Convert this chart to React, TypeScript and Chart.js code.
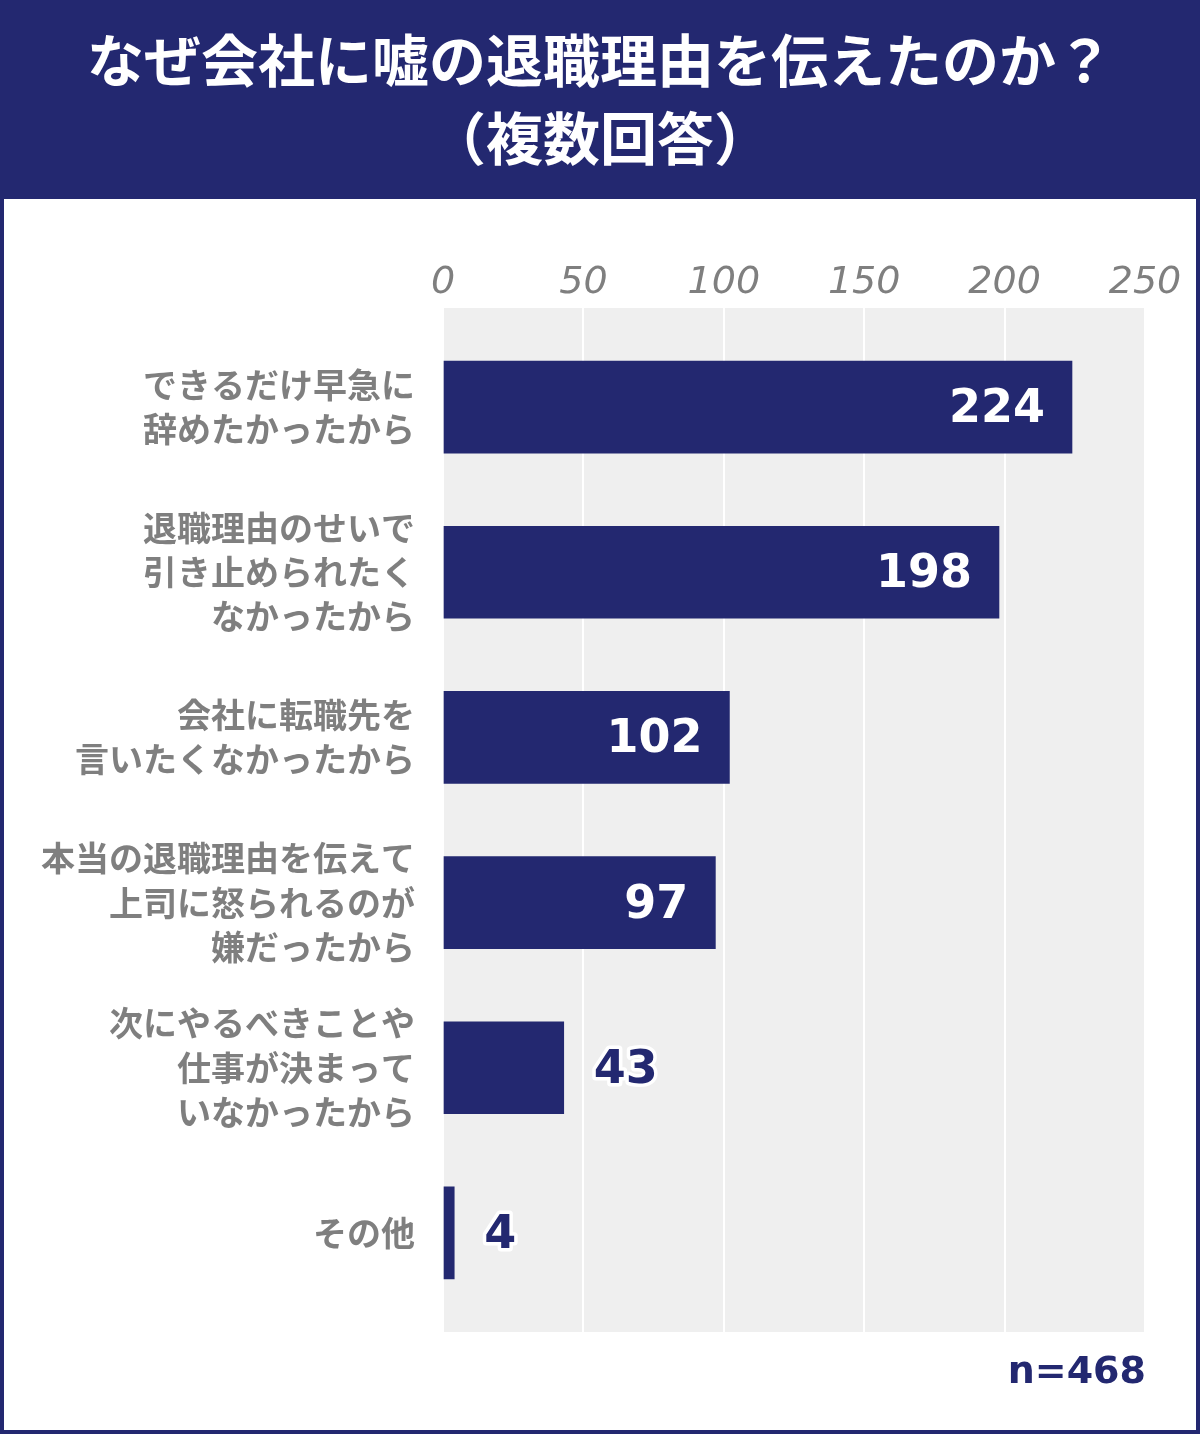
import React, { useEffect, useRef } from "react";
import { Chart, registerables } from "chart.js";
Chart.register(...registerables);

const NAVY = "#232870";
const GRAY = "#7f7f7f";
const PLOT_BG = "#efefef";

const titleLines = ["なぜ会社に嘘の退職理由を伝えたのか？", "（複数回答）"];
const categories: string[][] = [
  ["できるだけ早急に", "辞めたかったから"],
  ["退職理由のせいで", "引き止められたく", "なかったから"],
  ["会社に転職先を", "言いたくなかったから"],
  ["本当の退職理由を伝えて", "上司に怒られるのが", "嫌だったから"],
  ["次にやるべきことや", "仕事が決まって", "いなかったから"],
  ["その他"],
];
const values = [224, 198, 102, 97, 43, 4];
const xTicks = [0, 50, 100, 150, 200, 250];
const sampleNote = "n=468";

const bgPlugin = {
  id: "plotBg",
  beforeDraw(chart: any) {
    const { ctx, chartArea } = chart;
    ctx.save();
    ctx.fillStyle = PLOT_BG;
    ctx.fillRect(chartArea.left, chartArea.top, chartArea.right - chartArea.left, chartArea.bottom - chartArea.top);
    ctx.restore();
  },
};

const valuePlugin = {
  id: "valueLabels",
  afterDatasetsDraw(chart: any) {
    const ctx = chart.ctx;
    const meta = chart.getDatasetMeta(0);
    meta.data.forEach((bar: any, i: number) => {
      const v = values[i];
      ctx.save();
      ctx.font = "bold 46px 'DejaVu Sans'";
      ctx.textBaseline = "middle";
      if (v >= 90) {
        ctx.fillStyle = "#ffffff";
        ctx.textAlign = "right";
        ctx.fillText(String(v), bar.x - 27, bar.y + 3);
      } else {
        ctx.textAlign = "left";
        ctx.lineJoin = "round";
        ctx.lineWidth = 7;
        ctx.strokeStyle = "#ffffff";
        ctx.strokeText(String(v), bar.x + 30, bar.y + 3);
        ctx.fillStyle = NAVY;
        ctx.fillText(String(v), bar.x + 30, bar.y + 3);
      }
      ctx.restore();
    });
  },
};

export default function App() {
  const ref = useRef<HTMLCanvasElement>(null);
  useEffect(() => {
    document.body.style.margin = "0";
    const chart = new Chart(ref.current as HTMLCanvasElement, {
      type: "bar",
      data: {
        datasets: [
          {
            data: values.map((v, i) => ({ x: v, y: i })),
            backgroundColor: NAVY,
            barThickness: 92,
          },
        ],
      },
      options: {
        indexAxis: "y",
        responsive: false,
        animation: false,
        devicePixelRatio: 1,
        layout: { padding: { top: 200, right: 55, bottom: 102, left: 0 } },
        plugins: { legend: { display: false }, tooltip: { enabled: false } },
        scales: {
          x: {
            type: "linear",
            position: "top",
            min: 0,
            max: 250,
            offset: false,
            afterBuildTicks: (s: any) => {
              s.ticks = xTicks.map((v) => ({ value: v }));
            },
            afterFit: (s: any) => {
              s.height = 108;
            },
            grid: { color: "#ffffff", lineWidth: 2, drawTicks: false },
            border: { display: false },
            ticks: {
              padding: 2,
              color: GRAY,
              autoSkip: false,
              maxRotation: 0,
              font: { family: "'DejaVu Sans'", size: 38, style: "italic", lineHeight: 1.2 },
            },
          },
          y: {
            type: "linear",
            reverse: true,
            offset: false,
            min: -0.6,
            max: 5.6,
            afterBuildTicks: (s: any) => {
              s.ticks = categories.map((_, i) => ({ value: i }));
            },
            afterFit: (s: any) => {
              s.width = 443;
            },
            grid: { display: false, drawTicks: false },
            border: { display: false },
            ticks: {
              padding: 28,
              color: GRAY,
              autoSkip: false,
              font: { family: "'Noto Sans CJK JP'", size: 34, weight: "bold", lineHeight: 1.3 },
              callback: (v: any) => categories[Math.round(Number(v))] ?? "",
            },
          },
        },
      } as any,
      plugins: [bgPlugin, valuePlugin],
    });
    return () => chart.destroy();
  }, []);

  return (
    <div style={{ position: "absolute", left: 0, top: 0, width: 1200, height: 1434, background: "#ffffff", overflow: "hidden" }}>
      <div
        style={{
          position: "absolute",
          left: 0,
          top: 0,
          width: 1200,
          height: 199,
          background: NAVY,
          color: "#ffffff",
          fontFamily: "'Noto Sans CJK JP', sans-serif",
          fontWeight: 700,
          fontSize: 57,
          lineHeight: "78px",
          textAlign: "center",
          paddingTop: 18,
          boxSizing: "border-box",
        }}
      >
        {titleLines.map((t, i) => (
          <div key={i}>{t}</div>
        ))}
      </div>
      <canvas ref={ref} width={1200} height={1434} style={{ position: "absolute", left: 0, top: 0, width: 1200, height: 1434 }} />
      <div
        style={{
          position: "absolute",
          right: 54,
          top: 1346,
          color: NAVY,
          fontFamily: "'DejaVu Sans', sans-serif",
          fontWeight: 700,
          fontSize: 38,
          lineHeight: "48px",
        }}
      >
        {sampleNote}
      </div>
      <div
        style={{
          position: "absolute",
          left: 0,
          top: 0,
          width: 1200,
          height: 1434,
          border: `4px solid ${NAVY}`,
          boxSizing: "border-box",
          pointerEvents: "none",
        }}
      />
    </div>
  );
}
